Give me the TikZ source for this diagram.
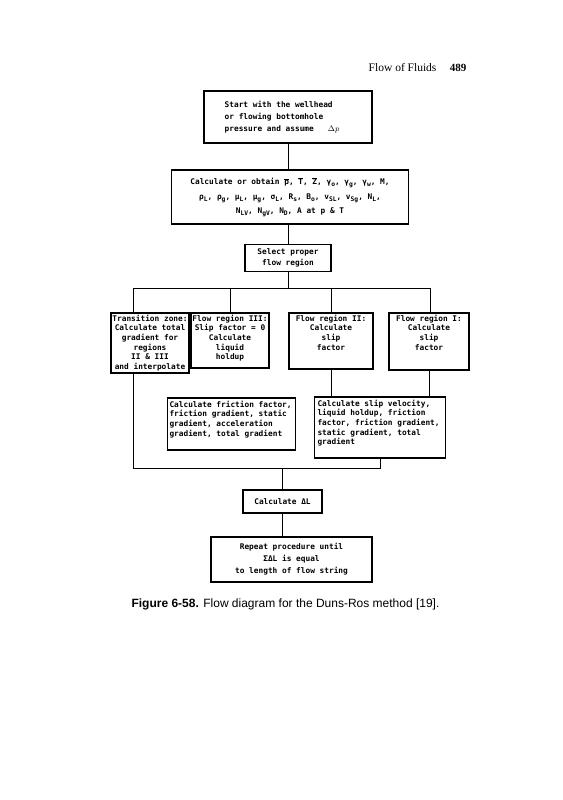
\documentclass[tikz,border=0pt]{standalone}
\usepackage{fontspec}
\setmainfont{Liberation Serif}
\setsansfont{Liberation Sans}
\setmonofont{DejaVu Sans Mono}
\newcommand{\sbs}[1]{\raisebox{-1.8pt}{\fontsize{6.3}{7}\selectfont #1}}
\newcommand{\ovl}[1]{$\overline{\hbox{#1}}$}

\begin{document}
\begin{tikzpicture}[x=1pt, y=-1pt,
  box/.style={draw, line width=1.1pt, inner sep=0pt, font=\ttfamily\bfseries\fontsize{7.8}{9.6}\selectfont},
  wide/.style={font=\ttfamily\bfseries\fontsize{7.8}{12}\selectfont},
  link/.style={line width=0.8pt}]
  \useasboundingbox (0,0) rectangle (562,800);

  % running head
  \node[anchor=base east, font=\fontsize{11.5}{13}\selectfont] (head) at (440,71) {Flow of Fluids};
  \node[anchor=base east, font=\bfseries\fontsize{11}{13}\selectfont] (page) at (470,71) {489};

  % upper chain
  \node[box, wide, minimum width=168, minimum height=52, align=left] (start) at (288,117)
    {Start with the wellhead\\or flowing bottomhole\\pressure and assume~~~$\Delta p$\hspace*{12pt}};
  \node[box, font=\ttfamily\bfseries\fontsize{7.8}{14.5}\selectfont, minimum width=237, minimum height=54, align=center] (calc) at (290,197)
    {Calculate or obtain \ovl{p}, \ovl{T}, \ovl{Z}, γ\sbs{o}, γ\sbs{g}, γ\sbs{w}, M,\\
     ρ\sbs{L}, ρ\sbs{g}, μ\sbs{L}, μ\sbs{g}, σ\sbs{L}, R\sbs{s}, B\sbs{o}, v\sbs{SL}, v\sbs{Sg}, N\sbs{L},\\
     N\sbs{LV}, N\sbs{gV}, N\sbs{D}, A at p \& T};
  \node[box, font=\ttfamily\bfseries\fontsize{7.8}{11}\selectfont, minimum width=86, minimum height=27, align=center] (select) at (288,258)
    {Select proper\\flow region};

  % flow regions
  \node[box, inner ysep=2pt] (trans) at (150,343)
    {\parbox[c][56pt][t]{78pt}{\centering Transition zone:\\Calculate total\\gradient for\\regions\\II \& III\\and interpolate}};
  \node[box, inner ysep=2pt] (r3) at (230,340.5)
    {\parbox[c][51pt][t]{78pt}{\centering Flow region III:\\Slip factor = 0\\Calculate\\liquid\\holdup}};
  \node[box, inner ysep=2pt] (r2) at (331,341)
    {\parbox[c][52pt][t]{84pt}{\centering Flow region II:\\Calculate\\slip\\factor}};
  \node[box, inner ysep=2pt] (r1) at (429,341.5)
    {\parbox[c][53pt][t]{80pt}{\centering Flow region I:\\Calculate\\slip\\factor}};

  % gradients
  \node[box, inner xsep=2pt, inner ysep=3pt] (fric) at (231.5,424)
    {\parbox[c][46pt][t]{124pt}{\raggedright Calculate friction factor,\\friction gradient, static\\gradient, acceleration\\gradient, total gradient}};
  \node[box, inner xsep=3pt, inner ysep=3pt] (slip) at (380,427.5)
    {\parbox[c][55pt][t]{125pt}{\raggedright Calculate slip velocity,\\liquid holdup, friction\\factor, friction gradient,\\static gradient, total\\gradient}};

  % lower chain
  \node[box, font=\ttfamily\bfseries\fontsize{7.8}{11}\selectfont, minimum width=79, minimum height=23] (dl) at (282.5,501.5)
    {Calculate ΔL};
  \node[box, wide, minimum width=161, minimum height=45, align=center] (rep) at (291.5,559.5)
    {Repeat procedure until\\ΣΔL is equal\\to length of flow string};

  % caption
  \node[anchor=base west, font=\sffamily\fontsize{12}{14}\selectfont] (cap) at (128,607)
    {\textbf{Figure 6-58.} Flow diagram for the Duns-Ros method [19].};

  % connectors
  \coordinate (busL) at (133,288);
  \coordinate (busR) at (430,288);
  \coordinate (join) at (133,468);
  \draw[link] (start.south) -- (start.south |- calc.north);
  \draw[link] (calc.south -| select.north) -- (select.north);
  \draw[link] (select.south) -- (select.south |- busL);
  \draw[link] (busL) -- (busR);
  \draw[link] (busL) -- (busL |- trans.north);
  \draw[link] (r3.north |- busL) -- (r3.north);
  \draw[link] (r2.north |- busL) -- (r2.north);
  \draw[link] (busR) -- (busR |- r1.north);
  \draw[link] (trans.south -| join) -- (join) -- (join -| slip.south) -- (slip.south);
  \draw[link] (r2.south) -- (r2.south |- slip.north);
  \draw[link] (r1.south) -- (r1.south |- slip.north);
  \draw[link] (join -| dl.north) -- (dl.north);
  \draw[link] (dl.south) -- (dl.south |- rep.north);
\end{tikzpicture}
\end{document}
